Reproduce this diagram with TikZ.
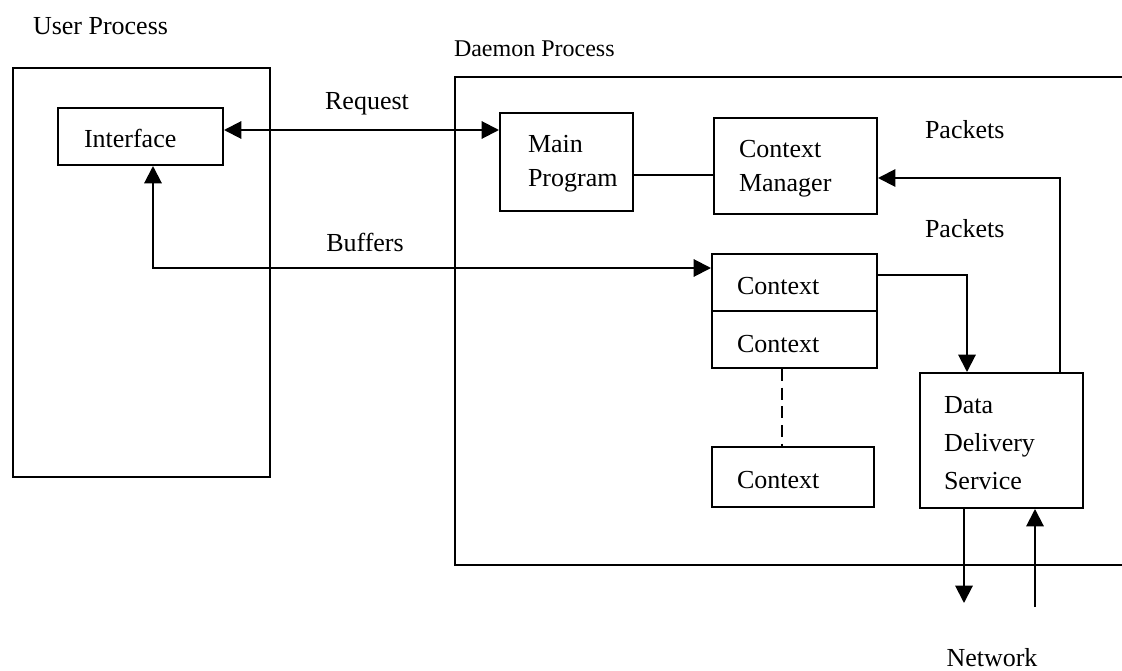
\documentclass[tikz,border=0pt]{standalone}
\usepackage{fontspec}
\setmainfont{Liberation Serif}
\usetikzlibrary{arrows.meta,fit,calc}
\begin{document}
\begin{tikzpicture}[x=0.75pt,y=-0.75pt,
  line width=1.5pt,
  box/.style={draw,rectangle,inner sep=0pt,line width=1.5pt},
  txt/.style={font=\fontsize{19.5pt}{25.5pt}\selectfont,inner sep=0pt,anchor=west,align=left},
  lbl/.style={font=\fontsize{19.5pt}{22pt}\selectfont,inner sep=0pt},
  tip/.style={-{Triangle[length=13pt,width=13pt]}},
  tips/.style={{Triangle[length=13pt,width=13pt]}-{Triangle[length=13pt,width=13pt]}}]
\useasboundingbox (0,0) rectangle (1122,671);
% process labels
\node[lbl,anchor=west] (uproc) at (32,26) {User Process};
\node[lbl,anchor=west,font=\fontsize{18pt}{22pt}\selectfont] (dproc) at (453,49) {Daemon Process};
% process boxes
\node[box,fit={(13,68)(270,477)}] (ubox) {};
\coordinate (dtr) at (1122,77);
\coordinate (dtl) at (455,77);
\coordinate (dbl) at (455,565);
\coordinate (dbr) at (1122,565);
\draw (dtr) -- (dtl) -- (dbl) -- (dbr);
% inner boxes
\node[box,fit={(58,108)(223,165)}] (iface) {};
\node[txt] (ifacet) at (83,138) {Interface};
\node[box,fit={(500,113)(633,211)}] (mainp) {};
\node[txt] (mainpt) at (527,164) {Main\\Program};
\node[box,fit={(714,118)(877,214)}] (cm) {};
\node[txt] (cmt) at (738,169) {Context\\Manager};
\node[box,fit={(712,254)(877,311)}] (ctxa) {};
\node[txt] (ctxat) at (736,286) {Context};
\node[box,fit={(712,311)(877,368)}] (ctxb) {};
\node[txt] (ctxbt) at (736,344) {Context};
\node[box,fit={(712,447)(874,507)}] (ctxc) {};
\node[txt] (ctxct) at (736,480) {Context};
\node[box,fit={(920,373)(1083,508)}] (dds) {};
\node[txt,font=\fontsize{19.5pt}{28.5pt}\selectfont] (ddst) at (943,443) {Data\\Delivery\\Service};
% labels
\node[lbl] (req) at (367,104) {Request};
\node[lbl] (buf) at (365,242) {Buffers};
\node[lbl,anchor=west] (pk1) at (924,130) {Packets};
\node[lbl,anchor=west] (pk2) at (924,229) {Packets};
\node[lbl] (net) at (992,658) {Network};
% helper coordinates
\coordinate (ry) at (0,130);
\coordinate (bx) at (153,268);
\coordinate (my) at (0,175);
\coordinate (cy) at (967,275);
\coordinate (py) at (1060,178);
\coordinate (dn) at (964,603);
\coordinate (up) at (1035,607);
\coordinate (dx) at (782,0);
% connectors
\draw[tips] (iface.east |- ry) -- (mainp.west |- ry);
\draw[tips] (iface.south -| bx) -- (bx) -- (ctxa.west |- bx);
\draw (mainp.east |- my) -- (cm.west |- my);
\draw[tip] (ctxa.east |- cy) -- (cy) -- (dds.north -| cy);
\draw[tip] (dds.north -| py) -- (py) -- (cm.east |- py);
\draw[dashed,dash pattern=on 9pt off 5pt] (ctxb.south -| dx) -- (ctxc.north -| dx);
\draw[tip] (dds.south -| dn) -- (dn);
\draw[tip] (up) -- (dds.south -| up);
\end{tikzpicture}
\end{document}
